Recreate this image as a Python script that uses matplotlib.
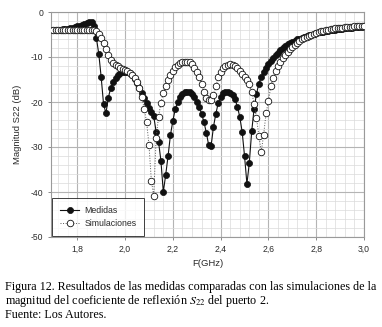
import numpy as np
import matplotlib
matplotlib.use("Agg")
import matplotlib.pyplot as plt
from matplotlib.ticker import MultipleLocator, FixedLocator

# ---------------- data ----------------
freq_ghz = np.round(np.arange(1.70, 3.0001, 0.01), 2)

medidas_db = [
    -4.0, -4.0, -3.95, -3.9, -3.85, -3.8, -3.7, -3.6, -3.5, -3.35,      # 1.70-1.79
    -3.2, -3.05, -2.9, -2.7, -2.5, -2.3, -2.2, -3.0, -5.8, -9.3,        # 1.80-1.89
    -14.5, -20.5, -22.5, -19.0, -16.9, -15.6, -14.7, -14.0, -13.6, -13.4,  # 1.90-1.99
    -13.3, -13.4, -13.6, -14.1, -14.8, -15.8, -16.9, -18.0, -19.2, -20.3,  # 2.00-2.09
    -21.3, -22.2, -23.2, -26.6, -28.8, -33.0, -40.0, -36.2, -32.0, -27.3,  # 2.10-2.19
    -24.2, -21.6, -20.0, -18.9, -18.2, -17.8, -17.7, -17.8, -18.2, -18.9,  # 2.20-2.29
    -19.9, -21.1, -22.6, -24.4, -26.8, -29.6, -29.8, -25.5, -22.6, -20.2,  # 2.30-2.39
    -18.9, -18.1, -17.7, -17.7, -17.9, -18.4, -19.4, -21.0, -23.3, -26.6,  # 2.40-2.49
    -32.0, -38.2, -33.5, -26.5, -21.5, -18.2, -15.9, -14.4, -13.3, -12.4,  # 2.50-2.59
    -11.6, -10.9, -10.2, -9.6, -9.0, -8.5, -8.0, -7.6, -7.2, -6.9,         # 2.60-2.69
    -6.6, -6.35, -6.1, -5.9, -5.7, -5.5, -5.3, -5.15, -5.0, -4.85,         # 2.70-2.79
    -4.7, -4.55, -4.45, -4.35, -4.25, -4.15, -4.05, -3.95, -3.9, -3.85,    # 2.80-2.89
    -3.8, -3.7, -3.65, -3.6, -3.5, -3.45, -3.4, -3.35, -3.3, -3.25,        # 2.90-2.99
    -3.2,                                                                  # 3.00
]

simulaciones_db = [
    -4.1, -4.1, -4.1, -4.1, -4.05, -4.05, -4.05, -4.0, -4.0, -4.0,      # 1.70-1.79
    -4.0, -4.0, -3.95, -3.95, -3.9, -3.9, -3.9, -4.0, -4.3, -4.8,       # 1.80-1.89
    -5.7, -6.9, -8.2, -9.6, -10.7, -11.4, -11.8, -12.1, -12.4, -12.6,   # 1.90-1.99
    -12.9, -13.2, -13.6, -14.1, -14.7, -15.5, -16.8, -18.8, -21.5, -24.4,  # 2.00-2.09
    -29.5, -37.5, -40.8, -28.0, -23.3, -20.2, -18.0, -16.5, -15.2, -14.1,  # 2.10-2.19
    -13.1, -12.3, -11.7, -11.3, -11.1, -11.0, -11.0, -11.1, -11.6, -12.4,  # 2.20-2.29
    -13.3, -14.4, -15.9, -17.8, -19.1, -19.6, -19.5, -18.5, -16.5, -14.5,  # 2.30-2.39
    -13.3, -12.5, -12.0, -11.7, -11.6, -11.7, -12.0, -12.5, -13.2, -13.8,  # 2.40-2.49
    -14.4, -15.1, -16.1, -17.8, -20.4, -23.5, -27.5, -31.0, -27.3, -22.5,  # 2.50-2.59
    -19.8, -16.5, -14.6, -13.2, -12.0, -11.0, -10.2, -9.5, -8.9, -8.3,     # 2.60-2.69
    -7.8, -7.3, -6.9, -6.5, -6.1, -5.8, -5.5, -5.25, -5.0, -4.8,           # 2.70-2.79
    -4.6, -4.45, -4.3, -4.15, -4.0, -3.9, -3.8, -3.7, -3.6, -3.55,         # 2.80-2.89
    -3.5, -3.45, -3.4, -3.35, -3.3, -3.25, -3.2, -3.15, -3.1, -3.05,       # 2.90-2.99
    -3.0,                                                                  # 3.00
]

x_ticks = [1.8, 2.0, 2.2, 2.4, 2.6, 2.8, 3.0]
x_tick_labels = ["1,8", "2,0", "2,2", "2,4", "2,6", "2,8", "3,0"]
y_ticks = [0, -10, -20, -30, -40, -50]
y_tick_labels = ["0", "-10", "-20", "-30", "-40", "-50"]

# ---------------- figure ----------------
W, H = 382, 327
fig = plt.figure(figsize=(W / 100, H / 100), dpi=100)
ax = fig.add_axes([51 / W, 1 - 237 / H, 313 / W, 225 / H])

sans = ["Liberation Sans", "DejaVu Sans"]
txt_col = "#2a2a2a"

ax.plot(freq_ghz, medidas_db, color="#111111", lw=0.8, ls="-",
        marker="o", ms=4.4, mfc="#111111", mec="#111111", mew=0.5,
        label="Medidas", zorder=3)
ax.plot(freq_ghz, simulaciones_db, color="#555555", lw=0.7, ls=":",
        marker="o", ms=4.7, mfc="white", mec="#111111", mew=0.6,
        label="Simulaciones", zorder=4)

ax.set_xlim(1.69, 3.0)
ax.set_ylim(-50, 0)
ax.xaxis.set_major_locator(FixedLocator(x_ticks))
ax.set_xticklabels(x_tick_labels, fontsize=6.2, family=sans, color=txt_col)
ax.yaxis.set_major_locator(FixedLocator(y_ticks))
ax.set_yticklabels(y_tick_labels, fontsize=6.2, family=sans, color=txt_col)
ax.xaxis.set_minor_locator(MultipleLocator(0.04))
ax.yaxis.set_minor_locator(MultipleLocator(2))
ax.tick_params(which="major", direction="out", length=2.5, width=0.6,
               color="#777777", pad=3)
ax.tick_params(which="minor", length=0)

ax.grid(which="minor", color="#dadada", lw=0.5)
ax.grid(which="major", color="#b4b4b4", lw=0.8)
ax.set_axisbelow(True)
for s in ax.spines.values():
    s.set_color("#9a9a9a")
    s.set_linewidth(0.8)

ax.set_xlabel("F(GHz)", fontsize=6.8, family=sans, color=txt_col, labelpad=4)
ax.set_ylabel("Magnitud S22 (dB)", fontsize=6.8, family=sans, color=txt_col,
              labelpad=6)

leg = ax.legend(loc="lower left", prop={"family": sans, "size": 6.3},
                frameon=True, fancybox=False, borderaxespad=0.15,
                handlelength=2.2, handletextpad=0.55,
                labelspacing=0.45, borderpad=0.9)
leg.get_frame().set_edgecolor("#111111")
leg.get_frame().set_linewidth(0.7)
for t in leg.get_texts():
    t.set_color(txt_col)

# caption
plt.rcParams["mathtext.fontset"] = "stix"
serif = ["Liberation Serif", "DejaVu Serif"]
cap_size = 8.7
fig.text(5 / W, 1 - 287 / H,
         "Figura 12. Resultados de las medidas comparadas con las simulaciones de la",
         fontsize=cap_size, family=serif, va="center", ha="left", color="black")
fig.text(5 / W, 1 - 301 / H,
         r"magnitud del coeficiente de reflexión $S_{22}$ del puerto 2.",
         fontsize=cap_size, family=serif, va="center", ha="left", color="black")
fig.text(5 / W, 1 - 315 / H, "Fuente: Los Autores.",
         fontsize=cap_size, family=serif, va="center", ha="left", color="black")

fig.savefig("out.png", dpi=100)
